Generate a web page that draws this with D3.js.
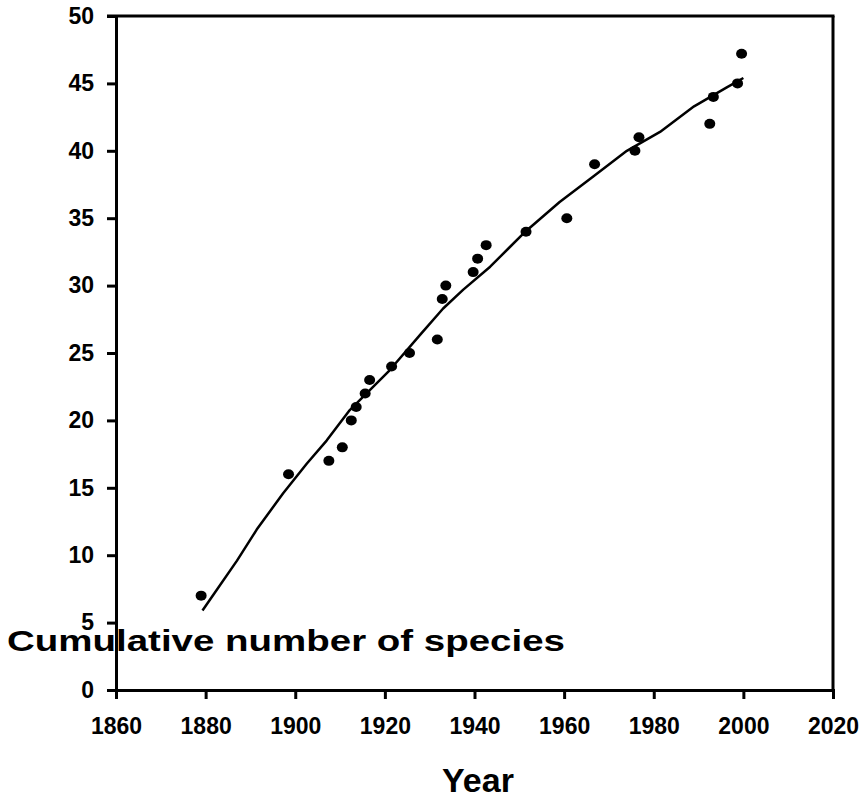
<!DOCTYPE html>
<html>
<head>
<meta charset="utf-8">
<script src="https://cdn.jsdelivr.net/npm/d3@7"></script>
<style>
body { margin: 0; background: #fff; }
</style>
</head>
<body>
<svg id="main" width="865" height="798"></svg>
<script>
// observed records
var years = [1879, 1898.5, 1907.5, 1910.5, 1912.5, 1913.6, 1915.6, 1916.6, 1921.5, 1925.5,
	1931.7, 1932.8, 1933.6, 1939.7, 1940.7, 1942.6, 1951.5, 1960.6, 1966.8, 1975.8,
	1976.7, 1992.5, 1993.3, 1998.7, 1999.6];
var species = [7, 16, 17, 18, 20, 21, 22, 23, 24, 25,
	26, 29, 30, 31, 32, 33, 34, 35, 39, 40,
	41, 42, 44, 45, 47.2];

// fitted curve
var fitYears = [1879.3, 1882, 1887, 1891.4, 1897.3, 1902.6, 1907, 1912, 1921, 1928,
	1933, 1937.5, 1943.5, 1951, 1959, 1966.5, 1974, 1981.4, 1989, 1996.3, 2000];
var fitValues = [5.9, 7.2, 9.6, 11.9, 14.6, 16.8, 18.5, 20.7, 23.7, 26.4,
	28.3, 29.7, 31.4, 33.9, 36.2, 38.1, 40.0, 41.4, 43.3, 44.7, 45.4];

var xTicks = [1860, 1880, 1900, 1920, 1940, 1960, 1980, 2000, 2020];
var yTicks = [0, 5, 10, 15, 20, 25, 30, 35, 40, 45, 50];

var svg = d3.select("#main");

var x = d3.scaleLinear().domain([1860, 2020]).range([116, 833]);
var y = d3.scaleLinear().domain([0, 50]).range([690, 16]);

// frame top + right
svg.append("line")
	.attr("x1", 107).attr("x2", 834.5)
	.attr("y1", y(50)).attr("y2", y(50))
	.style("stroke", "#000").style("stroke-width", "3px");
svg.append("line")
	.attr("x1", 833).attr("x2", 833)
	.attr("y1", y(50)).attr("y2", y(0))
	.style("stroke", "#000").style("stroke-width", "3px");

var xAxis = svg.append("g")
	.attr("transform", "translate(0," + y(0) + ")");
xAxis.call(d3.axisBottom(x).tickValues(xTicks).tickFormat(d3.format("d")).tickSize(9).tickPadding(19));

var yAxis = svg.append("g")
	.attr("transform", "translate(" + x(1860) + ",0)");
yAxis.call(d3.axisLeft(y).tickValues(yTicks).tickSize(9).tickPadding(13));

function styleAxis(g) {
	g.selectAll("path.domain").style("stroke", "#000").style("stroke-width", "3px");
	g.selectAll("g.tick line").style("stroke", "#000").style("stroke-width", "3px");
	g.selectAll("g.tick text")
		.style("font-size", "23px")
		.style("font-weight", "bold")
		.style("fill", "#000");
}
styleAxis(xAxis);
styleAxis(yAxis);

// fitted line
var line = d3.line()
	.x(function(d){ return x(d[0]); })
	.y(function(d){ return y(d[1]); });
svg.append("path")
	.datum(d3.zip(fitYears, fitValues))
	.attr("d", line)
	.style("fill", "none")
	.style("stroke", "#000")
	.style("stroke-width", "2.5px")
	.style("stroke-linejoin", "round");

// points
svg.selectAll("ellipse.pt")
	.data(d3.zip(years, species))
	.enter().append("ellipse")
	.attr("class", "pt")
	.attr("cx", function(d){ return x(d[0]); })
	.attr("cy", function(d){ return y(d[1]); })
	.attr("rx", 5.5)
	.attr("ry", 5)
	.style("fill", "#000");

// axis titles
svg.append("text")
	.attr("x", 478).attr("y", 792)
	.attr("text-anchor", "middle")
	.style("font-family", "sans-serif")
	.style("font-weight", "bold")
	.style("font-size", "34px")
	.text("Year");

svg.append("text")
	.attr("x", 7).attr("y", 651)
	.attr("textLength", 558)
	.attr("lengthAdjust", "spacingAndGlyphs")
	.style("font-family", "sans-serif")
	.style("font-weight", "bold")
	.style("font-size", "30px")
	.text("Cumulative number of species");
</script>
</body>
</html>
